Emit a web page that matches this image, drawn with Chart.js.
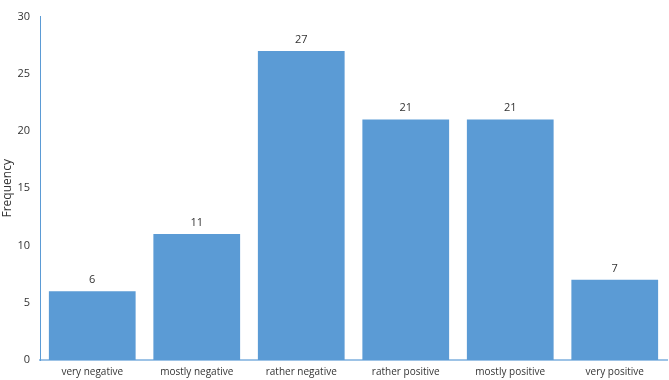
<!DOCTYPE html>
<html>
<head>
<meta charset="utf-8">
<script src="https://cdn.jsdelivr.net/npm/chart.js@4.4.0/dist/chart.umd.min.js"></script>
<style>
  html, body { margin: 0; padding: 0; background: #fff; }
  #wrap { width: 669px; height: 380px; }
</style>
</head>
<body>
<div id="wrap"><canvas id="chart"></canvas></div>
<script>
const categories = ["very negative", "mostly negative", "rather negative", "rather positive", "mostly positive", "very positive"];
const frequency = [6, 11, 27, 21, 21, 7];
const yTicks = [0, 5, 10, 15, 20, 25, 30];

// draw value labels above the bars
const valueLabels = {
    id: "valueLabels",
    afterDatasetsDraw(chart) {
        const ctx = chart.ctx;
        const meta = chart.getDatasetMeta(0);
        ctx.save();
        ctx.fillStyle = "#333";
        ctx.font = "11px 'Open Sans', sans-serif";
        ctx.textAlign = "center";
        ctx.textBaseline = "bottom";
        meta.data.forEach((bar, i) => {
            ctx.fillText(frequency[i], bar.x, bar.y - 6);
        });
        ctx.restore();
    }
};

new Chart(document.getElementById("chart"), {
    type: "bar",
    data: {
        labels: categories,
        datasets: [{
            data: frequency,
            backgroundColor: "#5B9BD5",
            barPercentage: 0.83,
            categoryPercentage: 1.0
        }]
    },
    options: {
        responsive: true,
        maintainAspectRatio: false,
        animation: false,
        layout: { padding: { top: 5, right: 2, left: 0, bottom: 0 } },
        plugins: {
            legend: { display: false },
            tooltip: { enabled: false }
        },
        scales: {
            x: {
                grid: { display: false, drawTicks: false },
                border: { color: "#9DC3E6", width: 2 },
                afterFit(axis) { axis.height = 20; },
                ticks: {
                    color: "#333",
                    font: { family: "'Open Sans', sans-serif", size: 10 },
                    padding: 6,
                    maxRotation: 0
                }
            },
            y: {
                min: 0,
                max: 30,
                afterBuildTicks(axis) {
                    axis.ticks = yTicks.map(v => ({ value: v }));
                },
                afterFit(axis) { axis.width = 40; },
                grid: { display: false, drawTicks: false },
                border: { color: "#5B9BD5", width: 1 },
                title: {
                    display: true,
                    text: "Frequency",
                    color: "#333",
                    font: { family: "'Open Sans', sans-serif", size: 12 },
                    padding: 0
                },
                ticks: {
                    color: "#333",
                    font: { family: "'Open Sans', sans-serif", size: 11 },
                    padding: 10
                }
            }
        }
    },
    plugins: [valueLabels]
});
</script>
</body>
</html>
